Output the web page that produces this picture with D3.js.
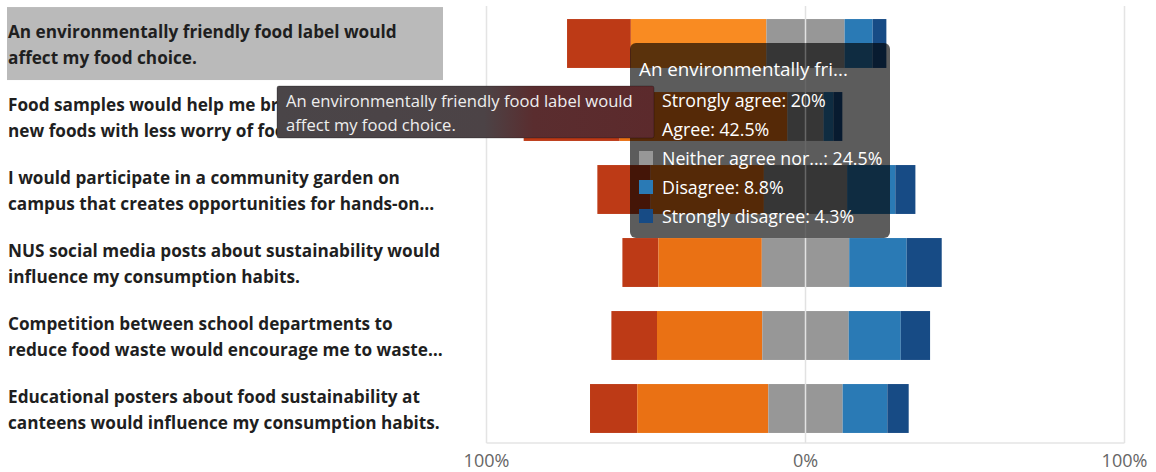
<!DOCTYPE html>
<html>
<head>
    <meta charset="utf-8"/>
    <script src="https://d3js.org/d3.v7.min.js"></script>
    <style>
        body { margin: 0; background: #ffffff; font-family: "Open Sans", sans-serif; }
        svg { display: block; }
        .qlabel { font-weight: 700; font-size: 17.2px; fill: #1f1f1f; }
        .tick-label { font-size: 18px; fill: #666666; }
    </style>
</head>
<body>
<svg id="chart" width="1156" height="472"></svg>
<script>

// questions (full text) and the lines shown on the left
var questions = [
    "An environmentally friendly food label would affect my food choice.",
    "Food samples would help me break into new foods with less worry of food waste.",
    "I would participate in a community garden on campus that creates opportunities for hands-on learning.",
    "NUS social media posts about sustainability would influence my consumption habits.",
    "Competition between school departments to reduce food waste would encourage me to waste less.",
    "Educational posters about food sustainability at canteens would influence my consumption habits."
];
var labelLines = [
    ["An environmentally friendly food label would", "affect my food choice."],
    ["Food samples would help me break into", "new foods with less worry of food waste."],
    ["I would participate in a community garden on", "campus that creates opportunities for hands-on\u2026"],
    ["NUS social media posts about sustainability would", "influence my consumption habits."],
    ["Competition between school departments to", "reduce food waste would encourage me to waste\u2026"],
    ["Educational posters about food sustainability at", "canteens would influence my consumption habits."]
];

var seriesNames = ["Strongly agree", "Agree", "Neither agree nor disagree", "Disagree", "Strongly disagree"];
var seriesColors = ["#bd3a16", "#ea7114", "#979797", "#2a7ab5", "#174b85"];

// percent of answers per question
var strongAgree    = [20,   30.1, 16.7, 11.3, 14.3, 14.8];
var agree          = [42.5, 52.6, 35.5, 32.4, 33.0, 41.1];
var neutral        = [24.5, 11.3, 26.1, 27.4, 27.1, 23.3];
var disagree       = [8.8,  3.1,  15.1, 18.0, 16.3, 14.0];
var strongDisagree = [4.3,  2.8,  6.3,  11.0, 9.2,  6.7];

var tickValues = [-100, 0, 100];
var hovered = 0; // row under the mouse in the screenshot

var svg = d3.select("#chart");

var x = d3.scaleLinear().domain([-100, 100]).range([486.5, 1124.5]);
var y = d3.scaleBand().domain(d3.range(questions.length)).range([6, 444]).paddingInner(0.33).paddingOuter(0.165);

// build segments: negative side starts at -(SA + A + N/2)
var rows = questions.map(function (q, i) {
    var vals = [strongAgree[i], agree[i], neutral[i], disagree[i], strongDisagree[i]];
    var start = -(vals[0] + vals[1] + vals[2] / 2);
    var segs = [];
    vals.forEach(function (v, k) {
        segs.push({ row: i, k: k, x0: start, x1: start + v, v: v });
        start += v;
    });
    return segs;
});

// frame
var frame = svg.append("g").attr("stroke", "#e4e4e4").attr("stroke-width", 1.5);
frame.append("line").attr("x1", x(-100)).attr("x2", x(-100)).attr("y1", 6).attr("y2", 443);
frame.append("line").attr("x1", x(100)).attr("x2", x(100)).attr("y1", 6).attr("y2", 443);
frame.append("line").attr("x1", x(-100)).attr("x2", x(100)).attr("y1", 443).attr("y2", 443);

// highlight behind hovered label
svg.append("rect")
    .attr("x", 7).attr("y", y(hovered) - 11)
    .attr("width", 436).attr("height", 73)
    .attr("fill", "#bababa");

// labels
labelLines.forEach(function (lines, i) {
    var t = svg.append("text").attr("class", "qlabel");
    lines.forEach(function (l, j) {
        t.append("tspan").attr("x", 8).attr("y", y(i) + y.bandwidth() / 2 - 4.5 + j * 26).text(l);
    });
});

// bars
svg.append("g").selectAll("g")
    .data(rows).enter().append("g")
    .selectAll("rect")
    .data(function (d) { return d; }).enter().append("rect")
    .attr("x", function (d) { return x(d.x0); })
    .attr("width", function (d) { return x(d.x1) - x(d.x0); })
    .attr("y", function (d) { return y(d.row) + 1; })
    .attr("height", y.bandwidth())
    .attr("fill", function (d) {
        if (d.row == hovered && d.k == 1) return "#f98b22";
        return seriesColors[d.k];
    });

// zero line
svg.append("line")
    .attr("x1", x(0)).attr("x2", x(0)).attr("y1", 6).attr("y2", 443)
    .attr("stroke", "#e2e2e2").attr("stroke-width", 1.5);

// axis labels
svg.append("g").selectAll("text")
    .data(tickValues).enter().append("text")
    .attr("class", "tick-label")
    .attr("x", function (d) { return x(d); })
    .attr("y", 467)
    .attr("text-anchor", "middle")
    .text(function (d) { return Math.abs(d) + "%"; });

function truncate(s, n) { return s.length > n ? s.slice(0, n) + "..." : s; }

// chart tooltip for the hovered row
var tip = svg.append("g").attr("transform", "translate(630,43)");
tip.append("rect").attr("width", 260).attr("height", 195).attr("rx", 6)
    .attr("fill", "rgba(0,0,0,0.64)");
tip.append("line").attr("x1", x(0) - 630).attr("x2", x(0) - 630).attr("y1", 0).attr("y2", 195)
    .attr("stroke", "rgba(255,255,255,0.12)").attr("stroke-width", 1.5);
tip.append("text").attr("x", 9).attr("y", 33)
    .attr("font-size", 18.8).attr("fill", "#ffffff")
    .text(truncate(questions[hovered], 22));
rows[hovered].forEach(function (d, k) {
    var yy = 64 + k * 29;
    tip.append("rect").attr("x", 9).attr("y", yy - 14).attr("width", 14).attr("height", 14)
        .attr("fill", seriesColors[k]);
    tip.append("text").attr("x", 32).attr("y", yy)
        .attr("font-size", 17.8).attr("fill", "#ffffff")
        .text(truncate(seriesNames[k], 17) + ": " + d.v + "%");
});

// native title tooltip of the label
var grad = svg.append("defs").append("linearGradient").attr("id", "tipgrad");
grad.append("stop").attr("offset", "0%").attr("stop-color", "#4a4548");
grad.append("stop").attr("offset", "55%").attr("stop-color", "#4c4346");
grad.append("stop").attr("offset", "68%").attr("stop-color", "#5a2d2f");
grad.append("stop").attr("offset", "100%").attr("stop-color", "#5c2a2c");
var tt = svg.append("g").attr("transform", "translate(277,86)");
tt.append("rect").attr("width", 377).attr("height", 52).attr("rx", 2)
    .attr("fill", "url(#tipgrad)").attr("stroke", "rgba(0,0,0,0.25)");
tt.append("text").attr("font-size", 16.6).attr("fill", "#eeeeee")
    .selectAll("tspan").data(labelLines[hovered]).enter().append("tspan")
    .attr("x", 9).attr("y", function (d, j) { return 21 + j * 24; })
    .text(function (d) { return d; });

</script>
</body>
</html>
